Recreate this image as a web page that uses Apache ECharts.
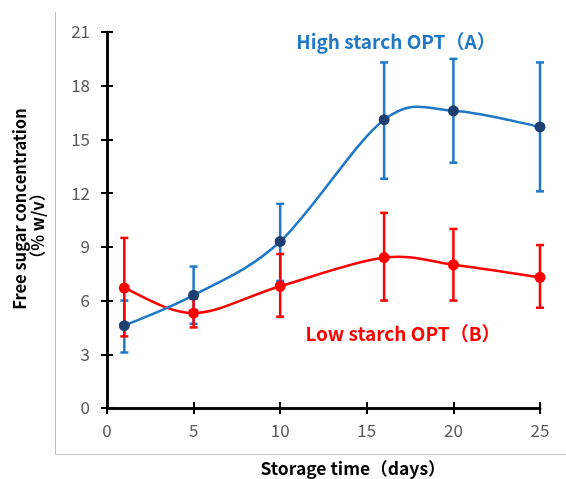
<!DOCTYPE html>
<html>
<head>
<meta charset="utf-8">
<script src="https://cdn.jsdelivr.net/npm/echarts@6/dist/echarts.min.js"></script>
<style>
    html, body { margin: 0; padding: 0; background: #fff; }
    #chart { width: 566px; height: 479px; }
</style>
</head>
<body>
<div id="chart"></div>
<script>
// 保存日数
var days = [1, 5, 10, 16, 20, 25];
// High starch OPT (A)
var highMean = [4.6, 6.3, 9.3, 16.1, 16.6, 15.7];
var highLow  = [3.1, 4.7, 7.1, 12.8, 13.7, 12.1];
var highUp   = [6.0, 7.9, 11.4, 19.3, 19.5, 19.3];
// Low starch OPT (B)
var lowMean = [6.7, 5.3, 6.8, 8.4, 8.0, 7.3];
var lowLow  = [4.0, 4.5, 5.1, 6.0, 6.0, 5.6];
var lowUp   = [9.5, 6.1, 8.6, 10.9, 10.0, 9.1];
// 目盛り
var xTicks = [0, 5, 10, 15, 20, 25];
var yTicks = [0, 3, 6, 9, 12, 15, 18, 21];

var blue = '#1f78c8',
    navy = '#1f3f73',
    red = '#ff0000',
    font = '"Noto Sans CJK JP", "Noto Sans", sans-serif';

function pairs(xs, ys) {
    return xs.map(function (x, i) { return [x, ys[i]]; });
}
function bars(xs, lo, hi) {
    return xs.map(function (x, i) { return [x, lo[i], hi[i]]; });
}

// 誤差棒
function errorBar(color) {
    return function (params, api) {
        var x = api.value(0);
        var top = api.coord([x, api.value(2)]);
        var bot = api.coord([x, api.value(1)]);
        var w = 4;
        var style = { stroke: color, lineWidth: 2.5 };
        return {
            type: 'group',
            children: [
                { type: 'line', shape: { x1: top[0], y1: top[1], x2: bot[0], y2: bot[1] }, style: style },
                { type: 'line', shape: { x1: top[0] - w, y1: top[1], x2: top[0] + w, y2: top[1] }, style: style },
                { type: 'line', shape: { x1: bot[0] - w, y1: bot[1], x2: bot[0] + w, y2: bot[1] }, style: style }
            ]
        };
    };
}

// Excel風の平滑線 (Catmull-Rom)
function smoothLine(xs, ys, color) {
    return function (params, api) {
        var i = params.dataIndex, n = xs.length;
        if (i >= n - 1) return null;
        var p = function (k) {
            k = Math.max(0, Math.min(n - 1, k));
            return api.coord([xs[k], ys[k]]);
        };
        var p0 = p(i - 1), p1 = p(i), p2 = p(i + 1), p3 = p(i + 2);
        return {
            type: 'bezierCurve',
            shape: {
                x1: p1[0], y1: p1[1],
                cpx1: p1[0] + (p2[0] - p0[0]) / 6, cpy1: p1[1] + (p2[1] - p0[1]) / 6,
                cpx2: p2[0] - (p3[0] - p1[0]) / 6, cpy2: p2[1] - (p3[1] - p1[1]) / 6,
                x2: p2[0], y2: p2[1]
            },
            style: { stroke: color, lineWidth: 2.5, fill: null }
        };
    };
}

var axisCommon = {
    type: 'value',
    splitLine: { show: false },
    axisLine: { show: true, lineStyle: { color: '#000', width: 2.5 } }
};

function mkX(inside) {
    return Object.assign({}, axisCommon, {
        position: 'bottom',
        min: xTicks[0],
        max: xTicks[xTicks.length - 1],
        interval: 5,
        axisTick: { show: true, inside: inside, length: 6, lineStyle: { color: '#000', width: 2 } },
        axisLabel: {
            show: !inside,
            margin: 14,
            color: '#595959',
            fontSize: 17,
            fontFamily: font
        }
    });
}
function mkY(inside) {
    return Object.assign({}, axisCommon, {
        position: 'left',
        min: yTicks[0],
        max: yTicks[yTicks.length - 1],
        interval: 3,
        axisTick: { show: true, inside: inside, length: 6, lineStyle: { color: '#000', width: 2 } },
        axisLabel: {
            show: !inside,
            margin: 17,
            color: '#595959',
            fontSize: 17,
            fontFamily: font
        }
    });
}

var option = {
    animation: false,
    backgroundColor: '#fff',
    grid: { left: 107, right: 26, top: 32, bottom: 71 },
    xAxis: [mkX(false), mkX(true)],
    yAxis: [mkY(false), mkY(true)],
    graphic: [
        {
            type: 'polyline',
            shape: { points: [[55.5, 12], [55.5, 454.5], [566, 454.5]] },
            style: { stroke: '#c0c0c0', lineWidth: 1, fill: null },
            z: -1
        },
        {
            type: 'text', x: 20, y: 209, rotation: Math.PI / 2,
            style: { text: 'Free sugar concentration', fontSize: 16.5, fontWeight: 'bold', fontFamily: font,
                     fill: '#000', align: 'center', verticalAlign: 'middle' }
        },
        {
            type: 'text', x: 38, y: 226, rotation: Math.PI / 2,
            style: { text: '（% w/v）', fontSize: 16.5, fontWeight: 'bold', fontFamily: font,
                     fill: '#000', align: 'center', verticalAlign: 'middle' }
        },
        {
            type: 'text', x: 353, y: 468,
            style: { text: 'Storage time（days）', fontSize: 17.5, fontWeight: 'bold', fontFamily: font,
                     fill: '#000', align: 'center', verticalAlign: 'middle' }
        },
        {
            type: 'text', x: 396, y: 42,
            style: { text: 'High starch OPT（A）', fontSize: 19, fontWeight: 'bold', fontFamily: font,
                     fill: blue, align: 'center', verticalAlign: 'middle' }
        },
        {
            type: 'text', x: 403, y: 334,
            style: { text: 'Low starch OPT（B）', fontSize: 19, fontWeight: 'bold', fontFamily: font,
                     fill: red, align: 'center', verticalAlign: 'middle' }
        }
    ],
    series: [
        {
            name: 'high err',
            type: 'custom',
            renderItem: errorBar(blue),
            encode: { x: 0, y: [1, 2] },
            data: bars(days, highLow, highUp),
            z: 1
        },
        {
            name: 'low err',
            type: 'custom',
            renderItem: errorBar(red),
            encode: { x: 0, y: [1, 2] },
            data: bars(days, lowLow, lowUp),
            z: 2
        },
        {
            name: 'Low starch OPT (B) line',
            type: 'custom',
            renderItem: smoothLine(days, lowMean, red),
            encode: { x: 0, y: 1 },
            data: pairs(days, lowMean),
            z: 3
        },
        {
            name: 'Low starch OPT (B)',
            type: 'scatter',
            symbol: 'circle',
            symbolSize: 11,
            itemStyle: { color: red, opacity: 1 },
            data: pairs(days, lowMean),
            z: 3
        },
        {
            name: 'High starch OPT (A) line',
            type: 'custom',
            renderItem: smoothLine(days, highMean, blue),
            encode: { x: 0, y: 1 },
            data: pairs(days, highMean),
            z: 4
        },
        {
            name: 'High starch OPT (A)',
            type: 'scatter',
            symbol: 'circle',
            symbolSize: 11,
            itemStyle: { color: navy, opacity: 1 },
            data: pairs(days, highMean),
            z: 5
        }
    ]
};

var chart = echarts.init(document.getElementById('chart'), null, { renderer: 'canvas' });
chart.setOption(option);
</script>
</body>
</html>
